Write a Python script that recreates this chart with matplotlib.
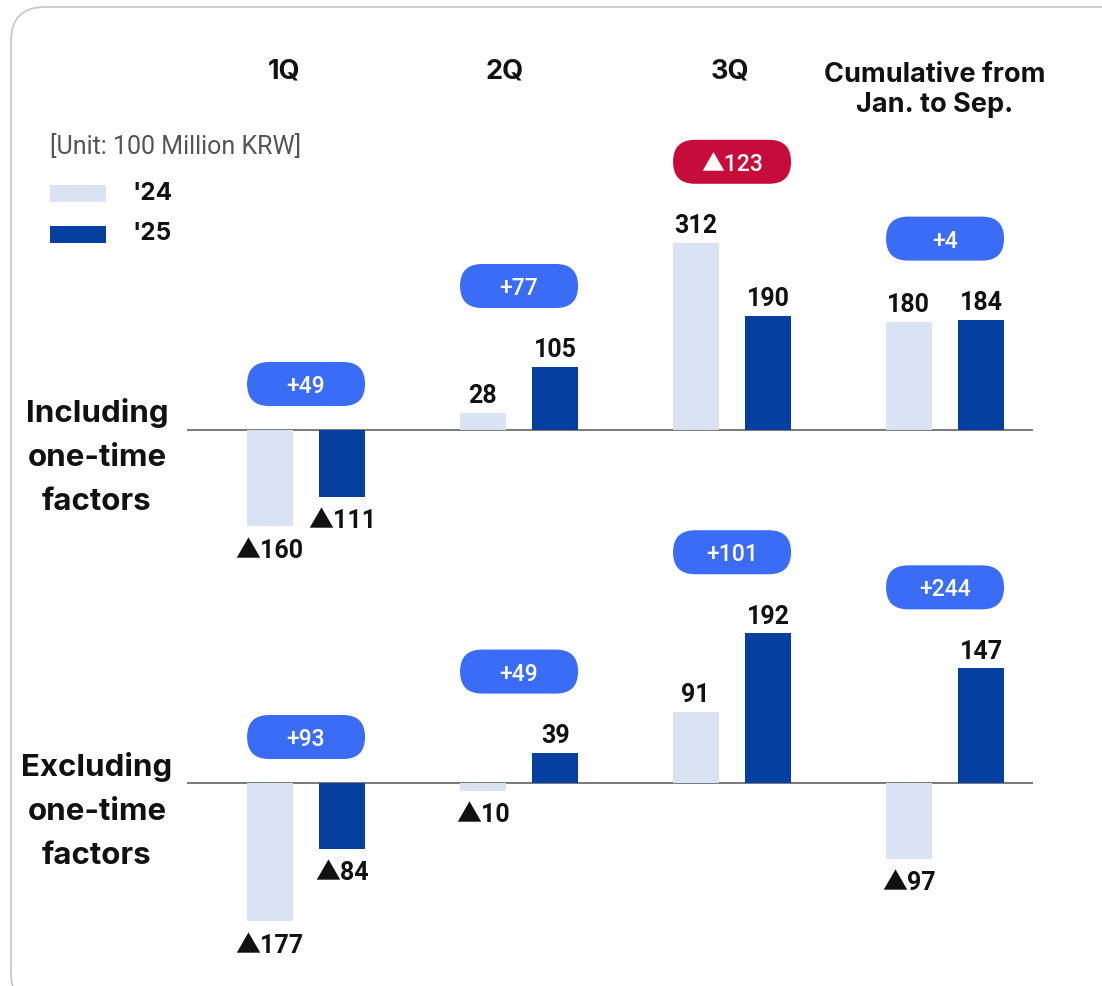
import matplotlib
matplotlib.use("Agg")
import matplotlib.pyplot as plt
from matplotlib.patches import FancyBboxPatch, Rectangle
from matplotlib.transforms import ScaledTranslation

plt.rcParams['font.family'] = ['Roboto', 'Noto Sans CJK KR', 'DejaVu Sans']
LABEL_FONT = ['Inter', 'Roboto', 'DejaVu Sans']

# ---- data (unit: 100 million KRW) ----
periods = ['1Q', '2Q', '3Q', 'Cumulative from\nJan. to Sep.']
years = ["'24", "'25"]
incl_24 = [-160, 28, 312, 180]
incl_25 = [-111, 105, 190, 184]
incl_change = [49, 77, -123, 4]
excl_24 = [-177, -10, 91, -97]
excl_25 = [-84, 39, 192, 147]
excl_change = [93, 49, 101, 244]
row_titles = ['Including\none-time\nfactors', 'Excluding\none-time\nfactors']
unit_text = '[Unit: 100 Million KRW]'

# ---- style ----
C24 = '#dae3f3'
C25 = '#0540a0'
C_UP = '#3a6cf6'
C_DOWN = '#c50c3b'
TXT = '#111111'

W, H = 1102, 986
fig = plt.figure(figsize=(W / 100, H / 100), dpi=100)
fig.patch.set_facecolor('white')

# background card with rounded corners
bg = fig.add_axes([0, 0, 1, 1])
bg.set_xlim(0, W)
bg.set_ylim(H, 0)
bg.axis('off')
bg.add_patch(FancyBboxPatch((14, 10), 1130, 1000,
                            boxstyle="round,pad=0,rounding_size=34",
                            facecolor='#e6e6e6', edgecolor='none', zorder=0))
bg.add_patch(FancyBboxPatch((11, 7), 1130, 1000,
                            boxstyle="round,pad=0,rounding_size=34",
                            facecolor='white', edgecolor='#c9c9c9', lw=1.3, zorder=1))


def fmt_value(v):
    return f'\u25b2{abs(v)}' if v < 0 else f'{v}'


def fmt_change(v):
    return f'\u25b2{abs(v)}' if v < 0 else f'+{v}'


def px_axes(y_top, y_bot):
    x0, x1 = 187, 1033
    return fig.add_axes([x0 / W, 1 - y_bot / H, (x1 - x0) / W, (y_bot - y_top) / H])


def draw_panel(ax, v24, v25, change, scale, baseline_px, y_top, y_bot):
    ax.set_xlim(-0.559, 3.413)
    ax.set_ylim(-(y_bot - baseline_px) / scale, (baseline_px - y_top) / scale)
    ax.axis('off')
    ax.axhline(0, color='#555555', lw=1.1, zorder=1)
    bw, off = 0.216, 0.171
    xs = list(range(len(periods)))
    b1 = ax.bar([x - off for x in xs], v24, width=bw, color=C24, zorder=2)
    b2 = ax.bar([x + off for x in xs], v25, width=bw, color=C25, zorder=2)
    for bars, vals in ((b1, v24), (b2, v25)):
        for rect, v in zip(bars, vals):
            cx = rect.get_x() + rect.get_width() / 2
            if v >= 0:
                ax.annotate(fmt_value(v), (cx, v), xytext=(0, 7), textcoords='offset points',
                            ha='center', va='baseline', fontsize=18, fontweight='bold',
                            color=TXT, annotation_clip=False)
            else:
                ax.annotate(fmt_value(v), (cx, v), xytext=(0, -9), textcoords='offset points',
                            ha='center', va='top', fontsize=18, fontweight='bold',
                            color=TXT, annotation_clip=False)
    for x, a, b, c in zip(xs, v24, v25, change):
        top = max(0, a, b)
        dy = 0.81 if top > 0 else 0.46
        tr = fig.dpi_scale_trans + ScaledTranslation(x, top, ax.transData)
        w, h = 1.18, 0.44
        ax.add_patch(FancyBboxPatch((-w / 2, dy - h / 2), w, h,
                                    boxstyle=f"round,pad=0,rounding_size={h / 2}",
                                    transform=tr, facecolor=C_UP if c >= 0 else C_DOWN,
                                    edgecolor='none', clip_on=False, zorder=3))
        ax.text(0, dy, fmt_change(c), transform=tr, ha='center', va='center_baseline',
                fontsize=16.5, color='white', fontweight='medium', zorder=4)


ax_top = px_axes(140, 570)
draw_panel(ax_top, incl_24, incl_25, incl_change, 0.6, 430, 140, 570)
ax_bot = px_axes(500, 960)
draw_panel(ax_bot, excl_24, excl_25, excl_change, 0.78, 783, 500, 960)

# column headers
for x, label in zip([284, 505, 730, 935], periods):
    bg.text(x, 72 if '\n' not in label else 90, label, ha='center', va='center',
            fontsize=19.5, fontweight='bold', color=TXT, linespacing=1.25,
            family=LABEL_FONT, zorder=5)

# row titles
bg.text(97, 457, row_titles[0], ha='center', va='center', fontsize=22.5,
        fontweight='bold', color=TXT, linespacing=1.72, family=LABEL_FONT, zorder=5)
bg.text(97, 811, row_titles[1], ha='center', va='center', fontsize=22.5,
        fontweight='bold', color=TXT, linespacing=1.72, family=LABEL_FONT, zorder=5)

# unit and legend
bg.text(50, 147, unit_text, ha='left', va='center', fontsize=18, color='#555555', zorder=5)
for y, col, lab in ((193, C24, years[0]), (234, C25, years[1])):
    bg.add_patch(Rectangle((50, y - 8.5), 56, 17, facecolor=col, edgecolor='none', zorder=5))
    bg.text(132, y, lab, ha='left', va='center', fontsize=17.5, fontweight='bold',
            color=TXT, family=LABEL_FONT, zorder=5)

fig.savefig('out.png', dpi=100, facecolor='white')
